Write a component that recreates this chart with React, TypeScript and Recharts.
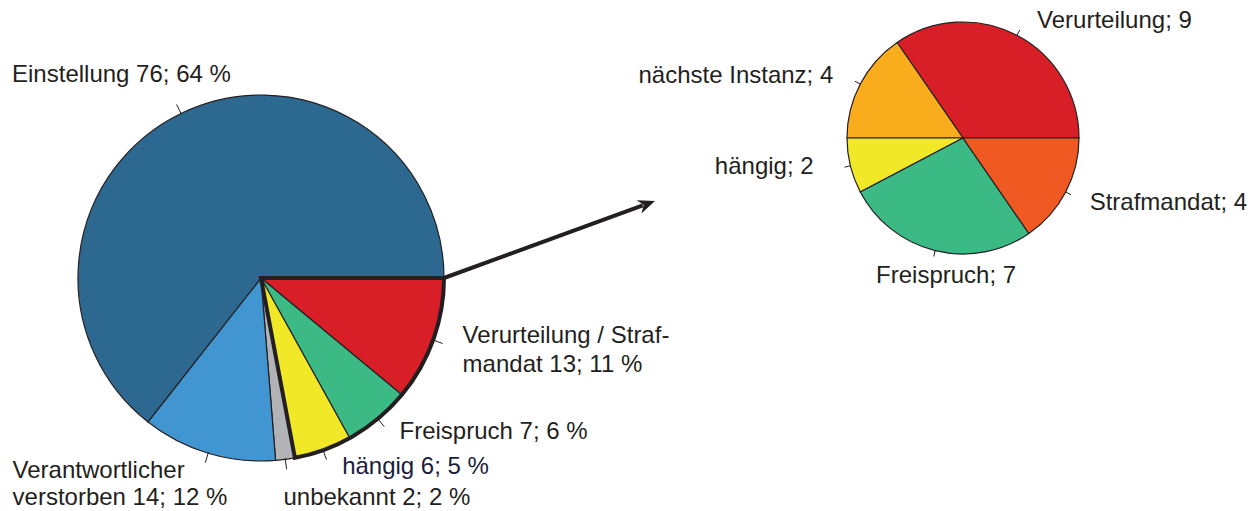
import React from 'react';
import { Cell, Customized, Pie, PieChart } from 'recharts';

// overview pie (clockwise from 3 o'clock)
const bigCategories = [
  'Verurteilung / Strafmandat',
  'Freispruch',
  'hängig',
  'unbekannt',
  'Verantwortlicher verstorben',
  'Einstellung',
];
const bigValues = [13, 7, 6, 2, 14, 76];
const bigLabels = [
  ['Verurteilung / Straf-', 'mandat 13; 11 %'],
  ['Freispruch 7; 6 %'],
  ['hängig 6; 5 %'],
  ['unbekannt 2; 2 %'],
  ['Verantwortlicher', 'verstorben 14; 12 %'],
  ['Einstellung 76; 64 %'],
];
const bigColors = ['#d81f27', '#3cba85', '#f1e827', '#b1b3b6', '#4196d2', '#2d6891'];

// the first three slices are broken down in the small pie
const detailCount = 3;

// detail pie (counter-clockwise from 3 o'clock)
const smallCategories = ['Verurteilung', 'nächste Instanz', 'hängig', 'Freispruch', 'Strafmandat'];
const smallValues = [9, 4, 2, 7, 4];
const smallColors = ['#d81f27', '#f9ad1d', '#f1e827', '#3cba85', '#f05a22'];

const bigData = bigCategories.map((name, i) => ({ name, value: bigValues[i] }));
const smallData = smallCategories.map((name, i) => ({ name, value: smallValues[i] }));
const detailTotal = bigValues.slice(0, detailCount).reduce((a, b) => a + b, 0);
const restTotal = bigValues.slice(detailCount).reduce((a, b) => a + b, 0);
const outlineData = [
  { name: 'detail', value: detailTotal },
  { name: 'rest', value: restTotal },
];

const INK = '#231f20';
const FONT = '"Liberation Sans", Arial, Helvetica, sans-serif';
const RAD = Math.PI / 180;

const BIG = { cx: 261, cy: 278, r: 183 };
const SMALL = { cx: 963, cy: 138, r: 116 };

type LabelLayout = { dx: number; dy: number; lh?: number; anchor: 'start' | 'middle' | 'end'; color?: string };

// text offsets from the point just outside each slice's tick
const bigLayout: LabelLayout[] = [
  { dx: 21, dy: 0, lh: 29, anchor: 'start' },
  { dx: 16, dy: 13, anchor: 'start' },
  { dx: 16, dy: 15, anchor: 'start', color: '#1b1c3d' },
  { dx: -3, dy: 37, anchor: 'start' },
  { dx: -193, dy: 16, lh: 27, anchor: 'start' },
  { dx: -165, dy: -23, anchor: 'start' },
];
const smallLayout: LabelLayout[] = [
  { dx: 16, dy: 1, anchor: 'start' },
  { dx: -19, dy: 3, anchor: 'end' },
  { dx: -28, dy: 6, anchor: 'end' },
  { dx: 13, dy: 24, anchor: 'middle' },
  { dx: 16, dy: 14, anchor: 'start' },
];

function makeLabel(texts: string[][], layout: LabelLayout[], tickIn: number, tickOut: number) {
  return (props: any) => {
    const { cx, cy, midAngle, outerRadius, index } = props;
    const cos = Math.cos(-midAngle * RAD);
    const sin = Math.sin(-midAngle * RAD);
    const ax = cx + (outerRadius + 9) * cos;
    const ay = cy + (outerRadius + 9) * sin;
    const l = layout[index];
    const lines = texts[index];
    return (
      <g key={`lbl-${index}`}>
        <line
          x1={cx + (outerRadius + tickIn) * cos}
          y1={cy + (outerRadius + tickIn) * sin}
          x2={cx + (outerRadius + tickOut) * cos}
          y2={cy + (outerRadius + tickOut) * sin}
          stroke={INK}
          strokeWidth={1}
        />
        {lines.map((t, k) => (
          <text
            key={k}
            x={ax + l.dx}
            y={ay + l.dy + k * (l.lh ?? 28)}
            textAnchor={l.anchor}
            fontFamily={FONT}
            fontSize={24}
            fill={l.color ?? INK}
          >
            {t}
          </text>
        ))}
      </g>
    );
  };
}

function Arrow() {
  const x1 = BIG.cx + BIG.r;
  const y1 = BIG.cy;
  const x2 = 655;
  const y2 = 201;
  const ang = Math.atan2(y2 - y1, x2 - x1);
  const len = 17;
  const half = 7;
  const bx = x2 - len * Math.cos(ang);
  const by = y2 - len * Math.sin(ang);
  const px = -Math.sin(ang);
  const py = Math.cos(ang);
  return (
    <g>
      <line x1={x1} y1={y1} x2={bx + 4 * Math.cos(ang)} y2={by + 4 * Math.sin(ang)} stroke={INK} strokeWidth={4} />
      <polygon
        points={`${x2},${y2} ${bx + half * px},${by + half * py} ${bx + 5 * Math.cos(ang)},${by + 5 * Math.sin(ang)} ${bx - half * px},${by - half * py}`}
        fill={INK}
      />
    </g>
  );
}

export default function App() {
  return (
    <div style={{ position: 'absolute', left: 0, top: 0, background: '#fff' }}>
      <PieChart width={1259} height={511} margin={{ top: 0, right: 0, bottom: 0, left: 0 }}>
        <Pie
          data={bigData}
          dataKey="value"
          nameKey="name"
          cx={BIG.cx}
          cy={BIG.cy}
          outerRadius={BIG.r}
          startAngle={0}
          endAngle={-360}
          stroke={INK}
          strokeWidth={1.2}
          labelLine={false}
          label={makeLabel(bigLabels, bigLayout, -1, 10)}
          isAnimationActive={false}
        >
          {bigData.map((d, i) => (
            <Cell key={d.name} fill={bigColors[i]} />
          ))}
        </Pie>
        <Pie
          data={outlineData}
          dataKey="value"
          nameKey="name"
          cx={BIG.cx}
          cy={BIG.cy}
          outerRadius={BIG.r}
          startAngle={0}
          endAngle={-360}
          labelLine={false}
          label={false}
          isAnimationActive={false}
        >
          <Cell fill="none" stroke={INK} strokeWidth={4} strokeLinejoin="miter" />
          <Cell fill="none" stroke="none" />
        </Pie>
        <Pie
          data={smallData}
          dataKey="value"
          nameKey="name"
          cx={SMALL.cx}
          cy={SMALL.cy}
          outerRadius={SMALL.r}
          startAngle={0}
          endAngle={360}
          stroke={INK}
          strokeWidth={1.2}
          labelLine={false}
          label={makeLabel(smallCategories.map((c, i) => [`${c}; ${smallValues[i]}`]), smallLayout, 0, 6)}
          isAnimationActive={false}
        >
          {smallData.map((d, i) => (
            <Cell key={d.name} fill={smallColors[i]} />
          ))}
        </Pie>
        <Customized component={Arrow} />
      </PieChart>
    </div>
  );
}
